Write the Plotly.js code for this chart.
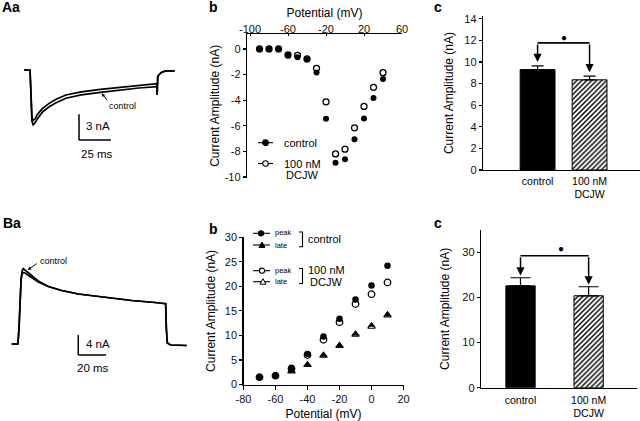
<!DOCTYPE html>
<html><head><meta charset="utf-8">
<script src="https://cdn.plot.ly/plotly-3.0.1.min.js"></script>
<style>html,body{margin:0;padding:0;background:#fff}#chart{width:640px;height:421px}</style>
</head><body><div id="chart"></div>
<script>
// ---------- Panel Aa: Na+ current traces (time ms, current nA) ----------
const aTime    = [-4.7, -0.5, 0, 0.8, 1.5, 2.5, 4, 6, 10, 15, 20, 28, 40, 55, 70, 85, 99, 99.3, 99.8, 101, 103, 106, 113];
const aControl = [0, 0, 0, -3.0, -6.0, -6.4, -6.15, -5.65, -4.87, -4.3, -3.85, -3.3, -2.9, -2.62, -2.35, -2.1, -1.95, -2.9, -0.8, -0.5, -0.25, -0.1, -0.1];
const aDCJW    = [0, 0, 0, -2.8, -5.5, -5.9, -5.7, -5.15, -4.45, -3.9, -3.45, -2.92, -2.55, -2.27, -2.02, -1.8, -1.6, -2.9, -0.8, -0.5, -0.25, -0.1, -0.1];
const aScale = {nA: 3, ms: 25};

// ---------- Panel Ab: I-V relation ----------
const abV       = [-90, -80, -70, -60, -50, -40, -30, -20, -10, 0, 10, 20, 30, 40];
const abControl = [0, 0, 0, -0.47, -0.65, -0.8, -1.83, -5.46, -8.88, -8.62, -7.06, -5.44, -3.84, -2.35];
const abDCJW    = [0, 0, 0, -0.47, -0.5, -0.78, -1.51, -4.13, -8.2, -7.83, -6.16, -4.49, -3.0, -1.85];
const abXTicks = [-100, -60, -20, 20, 60];
const abXText  = ['-100', '-60', '-20', '20', '60'];
const abYTicks = [0, -2, -4, -6, -8, -10];
const abYText  = ['0', '-2', '-4', '-6', '-8', '-10'];

// ---------- Panel Ac: peak amplitude bars ----------
const barCats = ['control', '100 nM<br>DCJW'];
const acVals = [9.3, 8.35];
const acErr  = [0.35, 0.35];
const acYTicks = [0, 2, 4, 6, 8, 10, 12, 14];

// ---------- Panel Ba: K+ current traces ----------
const bTime    = [-4.8, -0.3, 0.5, 1.2, 2.0, 2.8, 3.6, 4.8, 7, 9.7, 14.4, 21.7, 31.3, 43.3, 62.6, 81.9, 98.7, 106.4, 106.9, 107.6, 110, 121.6];
const bControl = [0, 0, 3, 9, 13, 14.7, 15.1, 14.8, 14.3, 13.7, 12.6, 11.5, 10.7, 10.0, 9.3, 8.7, 8.3, 8.06, 3, 0.2, -0.2, -0.3];
const bDCJW    = [0, 0, 3, 9, 12.8, 14.1, 14.3, 14.2, 13.8, 13.3, 12.4, 11.5, 10.7, 10.0, 9.3, 8.7, 8.3, 8.06, 3, 0.2, -0.2, -0.3];
const bScale = {nA: 4, ms: 20};

// ---------- Panel Bb: I-V relation (peak and late) ----------
const bbV          = [-70, -60, -50, -40, -30, -20, -10, 0, 10];
const bbPeakCtrl   = [1.5, 1.8, 3.4, 6.2, 9.8, 13.4, 17.3, 20.2, 24.2];
const bbPeakDCJW   = [1.5, 1.8, 3.2, 6.0, 9.1, 12.7, 16.4, 18.4, 20.8];
const bbVLate      = [-50, -40, -30, -20, -10, 0, 10];
const bbLateCtrl   = [2.8, 4.1, 6.0, 8.0, 10.3, 12.1, 14.3];
const bbLateDCJW   = [2.7, 4.0, 5.9, 7.9, 10.2, 11.8, 14.1];
const bbXTicks = [-80, -60, -40, -20, 0, 20];
const bbXText  = ['-80', '-60', '-40', '-20', '0', '20'];
const bbYTicks = [0, 5, 10, 15, 20, 25, 30];

// ---------- Panel Bc: peak amplitude bars ----------
const bcVals = [22.6, 20.4];
const bcErr  = [1.8, 2.0];
const bcYTicks = [0, 10, 20, 30];

// ---------- helpers (pixel -> paper) ----------
const W = 640, H = 421;
const PX = x => x / W, PY = y => 1 - y / H;
const domX = (a, b) => [a / W, b / W];
const domY = (top, bot) => [1 - bot / H, 1 - top / H];
const FONT = 'Liberation Sans, Arial, Helvetica, sans-serif';
const idx = barCats.map((c, i) => i);

const axBase = {showline: true, linecolor: '#000', linewidth: 1.2, ticks: 'outside', ticklen: 4, tickwidth: 1.2,
  tickcolor: '#000', showgrid: false, zeroline: false, fixedrange: true, tickfont: {size: 11, color: '#111'}};
const hidden = {visible: false, showgrid: false, zeroline: false, fixedrange: true};
const traceLine = {mode: 'lines', line: {color: '#000', width: 1.7}, showlegend: false, hoverinfo: 'skip'};

function barPair(vals, errs, xa, ya, width, capw) {
  const err = (i) => ({type: 'data', array: [errs[i]], symmetric: false, arrayminus: [0], thickness: 1.2, width: capw, color: '#000'});
  return [
    {type: 'bar', x: [idx[0]], y: [vals[0]], xaxis: xa, yaxis: ya, width: width, name: 'control', showlegend: false,
     marker: {color: '#000', line: {color: '#000', width: 1}}, error_y: err(0)},
    {type: 'bar', x: [idx[1]], y: [vals[1]], xaxis: xa, yaxis: ya, width: width, name: '100 nM DCJW', showlegend: false,
     marker: {color: '#fff', line: {color: '#000', width: 1},
              pattern: {shape: '/', fgcolor: '#000', bgcolor: '#fff', fillmode: 'replace', size: 3.5, solidity: 0.4}},
     error_y: err(1)}
  ];
}

const traces = [
  // Aa
  Object.assign({x: aTime, y: aDCJW, xaxis: 'x', yaxis: 'y', name: '100 nM DCJW'}, traceLine),
  Object.assign({x: aTime, y: aControl, xaxis: 'x', yaxis: 'y', name: 'control'}, traceLine),
  // Ab
  {x: abV, y: abDCJW, xaxis: 'x2', yaxis: 'y2', mode: 'markers', name: '100 nM DCJW', showlegend: false,
   marker: {symbol: 'circle-open', size: 6, color: '#000', line: {width: 1.3, color: '#000'}}},
  {x: abV, y: abControl, xaxis: 'x2', yaxis: 'y2', mode: 'markers', name: 'control', showlegend: false,
   marker: {symbol: 'circle', size: 6, color: '#000'}},
  // Ac
  ...barPair(acVals, acErr, 'x3', 'y3', 0.67, 6),
  // Ba
  Object.assign({x: bTime, y: bDCJW, xaxis: 'x4', yaxis: 'y4', name: '100 nM DCJW'}, traceLine),
  Object.assign({x: bTime, y: bControl, xaxis: 'x4', yaxis: 'y4', name: 'control'}, traceLine),
  // Bb
  {x: bbV, y: bbPeakDCJW, xaxis: 'x5', yaxis: 'y5', mode: 'markers', name: 'peak DCJW', showlegend: false,
   marker: {symbol: 'circle-open', size: 6.5, color: '#000', line: {width: 1.3}}},
  {x: bbVLate, y: bbLateDCJW, xaxis: 'x5', yaxis: 'y5', mode: 'markers', name: 'late DCJW', showlegend: false,
   marker: {symbol: 'triangle-up-open', size: 6.5, color: '#000', line: {width: 1.2}}},
  {x: bbV, y: bbPeakCtrl, xaxis: 'x5', yaxis: 'y5', mode: 'markers', name: 'peak control', showlegend: false,
   marker: {symbol: 'circle', size: 6.5, color: '#000'}},
  {x: bbVLate, y: bbLateCtrl, xaxis: 'x5', yaxis: 'y5', mode: 'markers', name: 'late control', showlegend: false,
   marker: {symbol: 'triangle-up', size: 6.5, color: '#000'}},
  // Bc
  ...barPair(bcVals, bcErr, 'x6', 'y6', 0.43, 10)
];

// ---------- shapes ----------
const shapes = [];
const lineShape = (xref, yref, x0, y0, x1, y1, w) => ({type: 'line', xref, yref, x0, y0, x1, y1, line: {color: '#000', width: w || 1.5}});
// scale bars Aa
shapes.push(lineShape('x', 'y', 38.3, -8.18 + aScale.nA, 38.3, -8.18, 1.5));
shapes.push(lineShape('x', 'y', 38.3, -8.18, 38.3 + aScale.ms, -8.18, 1.5));
// scale bars Ba
shapes.push(lineShape('x4', 'y4', 43.3, -2.2 + bScale.nA, 43.3, -2.2, 1.5));
shapes.push(lineShape('x4', 'y4', 43.3, -2.2, 43.3 + bScale.ms, -2.2, 1.5));
// significance brackets
shapes.push(lineShape('x3', 'y3', idx[0], 11.77, idx[1], 11.77, 1.6));
shapes.push(lineShape('x6', 'y6', idx[0], 29.3, idx[1], 29.3, 1.6));
// legend samples (pixel positions)
const legLine = (x0, x1, y) => lineShape('paper', 'paper', PX(x0), PY(y), PX(x1), PY(y), 1.1);
const legCircle = (x, y, filled, r) => ({type: 'circle', xref: 'paper', yref: 'paper', xsizemode: 'pixel', ysizemode: 'pixel',
  xanchor: PX(x), yanchor: PY(y), x0: -r, x1: r, y0: -r, y1: r, fillcolor: filled ? '#000' : '#fff', line: {color: '#000', width: 1.1}});
const legTri = (x, y, filled) => ({type: 'path', xref: 'paper', yref: 'paper', xsizemode: 'pixel', ysizemode: 'pixel',
  xanchor: PX(x), yanchor: PY(y), path: 'M-3,-2.5 L3,-2.5 L0,3 Z', fillcolor: filled ? '#000' : '#fff', line: {color: '#000', width: 1}});
// Ab legend
shapes.push(legLine(258, 273, 142.7), legCircle(265.5, 142.7, true, 2.8));
shapes.push(legLine(258, 273, 163.5), legCircle(265.5, 163.5, false, 2.8));
// Bb legend
shapes.push(legLine(253, 270, 233.3), legCircle(261, 233.3, true, 2.6));
shapes.push(legLine(253, 270, 245), legTri(262, 245, true));
shapes.push(legLine(253, 270, 270.7), legCircle(262, 270.7, false, 2.6));
shapes.push(legLine(253, 270, 281.7), legTri(263, 281.7, false));
const bracket = (x0, x1, yTop, yBot) => ({type: 'path', xref: 'paper', yref: 'paper',
  path: `M${PX(x0)},${PY(yTop)} L${PX(x1)},${PY(yTop)} L${PX(x1)},${PY(yBot)} L${PX(x0)},${PY(yBot)}`,
  line: {color: '#000', width: 1.1}});
shapes.push(bracket(299, 302.5, 232, 246.7));
shapes.push(bracket(299, 302.5, 268.5, 283.5));

// ---------- annotations ----------
const ann = [];
const txt = (text, x, y, size, opts) => Object.assign({text, xref: 'paper', yref: 'paper', x: PX(x), y: PY(y),
  xanchor: 'left', yanchor: 'middle', showarrow: false, font: {size, color: '#000'}}, opts || {});
// panel labels
ann.push(txt('<b>Aa</b>', 0, 7.5, 14), txt('<b>b</b>', 207, 7.5, 14), txt('<b>c</b>', 432, 7.5, 14));
ann.push(txt('<b>Ba</b>', 1, 222.5, 14), txt('<b>b</b>', 207, 229, 14), txt('<b>c</b>', 432, 223, 14));
// trace labels
ann.push({text: 'control', xref: 'x', yref: 'y', x: 72.4, y: -4.2, showarrow: false, font: {size: 9, color: '#000'}});
ann.push({text: '', xref: 'x', yref: 'y', x: 56, y: -2.72, axref: 'x', ayref: 'y', ax: 61.2, ay: -3.7,
  showarrow: true, arrowhead: 2, arrowsize: 0.7, arrowwidth: 1, arrowcolor: '#000', standoff: 0});
ann.push({text: 'control', xref: 'x4', yref: 'y4', x: 25.3, y: 16.7, showarrow: false, font: {size: 9, color: '#000'}});
ann.push({text: '', xref: 'x4', yref: 'y4', x: 6.8, y: 14.8, axref: 'x4', ayref: 'y4', ax: 14.4, ay: 16.3,
  showarrow: true, arrowhead: 2, arrowsize: 0.7, arrowwidth: 1, arrowcolor: '#000', standoff: 0});
// scale bar labels
ann.push({text: aScale.nA + ' nA', xref: 'x', yref: 'y', x: 42.2, y: -6.5, xanchor: 'left', showarrow: false, font: {size: 11.5, color: '#000'}});
ann.push({text: aScale.ms + ' ms', xref: 'x', yref: 'y', x: 52.3, y: -9.8, showarrow: false, font: {size: 11.5, color: '#000'}});
ann.push({text: bScale.nA + ' nA', xref: 'x4', yref: 'y4', x: 47.4, y: 0, xanchor: 'left', showarrow: false, font: {size: 11.5, color: '#000'}});
ann.push({text: bScale.ms + ' ms', xref: 'x4', yref: 'y4', x: 53.6, y: -4.8, showarrow: false, font: {size: 11.5, color: '#000'}});
// legends text
ann.push(txt('control', 281.5, 143, 11), txt('100 nM', 281.5, 163.5, 11), txt('DCJW', 284, 175.5, 11));
ann.push(txt('peak', 272.5, 232.5, 7.5), txt('late', 272.5, 245, 7.5), txt('peak', 272.5, 270, 7.5), txt('late', 272.5, 281.5, 7.5));
ann.push(txt('control', 305.5, 239, 11), txt('100 nM', 305.5, 270, 11), txt('DCJW', 307.5, 282, 11));
// significance arrows + dots
const sigArrow = (xr, yr, i, tip, level) => ({text: '', xref: xr, yref: yr, x: idx[i], y: tip, axref: xr, ayref: yr,
  ax: idx[i], ay: level, showarrow: true, arrowhead: 2, arrowsize: 1.1, arrowwidth: 1.5, arrowcolor: '#000', standoff: 0});
ann.push(sigArrow('x3', 'y3', 0, acVals[0] + acErr[0] + 0.35, 11.77));
ann.push(sigArrow('x3', 'y3', 1, acVals[1] + acErr[1] + 0.35, 11.77));
ann.push(sigArrow('x6', 'y6', 0, bcVals[0] + bcErr[0] + 0.5, 29.3));
ann.push(sigArrow('x6', 'y6', 1, bcVals[1] + bcErr[1] + 0.5, 29.3));
ann.push({text: '●', xref: 'x3', yref: 'y3', x: 0.5, y: 12.3, showarrow: false, font: {size: 10, color: '#000'}});
ann.push({text: '●', xref: 'x6', yref: 'y6', x: 0.6, y: 30.8, showarrow: false, font: {size: 10, color: '#000'}});

const yTitle = {text: 'Current Amplitude (nA)', font: {size: 12, color: '#000'}};

const layout = {
  width: W, height: H, margin: {l: 0, r: 0, t: 0, b: 0}, paper_bgcolor: '#fff', plot_bgcolor: 'rgba(0,0,0,0)',
  font: {family: FONT, color: '#000'}, showlegend: false, barmode: 'overlay',
  xaxis: Object.assign({domain: domX(0, 192), range: [-23.44, 126.56], anchor: 'y'}, hidden),
  yaxis: Object.assign({domain: domY(40, 170), range: [-11.68, 3.505], anchor: 'x'}, hidden),
  xaxis2: Object.assign({}, axBase, {domain: domX(247, 402), range: [-103.2, 60], side: 'top', anchor: 'y2',
    tickvals: abXTicks, ticktext: abXText, ticks: 'inside', ticklen: 2, tickwidth: 1, ticklabelstandoff: -5,
    title: {text: 'Potential (mV)', font: {size: 12}, standoff: 3}}),
  yaxis2: Object.assign({}, axBase, {domain: domY(34, 177.6), range: [-10.05, 1.17], anchor: 'x2',
    tickvals: abYTicks, ticktext: abYText, ticklen: 3, title: Object.assign({standoff: 2}, yTitle)}),
  xaxis3: Object.assign({}, axBase, {domain: domX(483, 640), range: [-1.05, 1.97], anchor: 'y3',
    tickvals: idx, ticktext: barCats, ticks: '', ticklabelstandoff: 1, tickfont: {size: 10.5, color: '#000'}}),
  yaxis3: Object.assign({}, axBase, {domain: domY(16, 170), range: [0, 14.26], anchor: 'x3',
    tickvals: acYTicks, ticklen: 3, title: Object.assign({standoff: 8}, yTitle)}),
  xaxis4: Object.assign({domain: domX(0, 195), range: [-13.21, 127.58], anchor: 'y4'}, hidden),
  yaxis4: Object.assign({domain: domY(240, 380), range: [-7.2, 20.8], anchor: 'x4'}, hidden),
  xaxis5: Object.assign({}, axBase, {domain: domX(243.5, 403.5), range: [-80, 20], anchor: 'y5',
    tickvals: bbXTicks, ticktext: bbXText, title: {text: 'Potential (mV)', font: {size: 12}, standoff: 6}}),
  yaxis5: Object.assign({}, axBase, {domain: domY(237.3, 384.5), range: [0, 30], anchor: 'x5',
    tickvals: bbYTicks, ticklen: 3, title: Object.assign({standoff: 6}, yTitle)}),
  xaxis6: Object.assign({}, axBase, {domain: domX(481, 637), range: [-0.58, 1.71], anchor: 'y6',
    tickvals: idx, ticktext: barCats, ticks: '', ticklabelstandoff: 2, tickfont: {size: 10.5, color: '#000'}}),
  yaxis6: Object.assign({}, axBase, {domain: domY(230, 387.7), range: [0, 35], anchor: 'x6',
    tickvals: bcYTicks, ticklen: 3, title: Object.assign({standoff: 10}, yTitle)}),
  shapes, annotations: ann
};

Plotly.newPlot('chart', traces, layout, {displayModeBar: false, staticPlot: true});
</script>
</body></html>
